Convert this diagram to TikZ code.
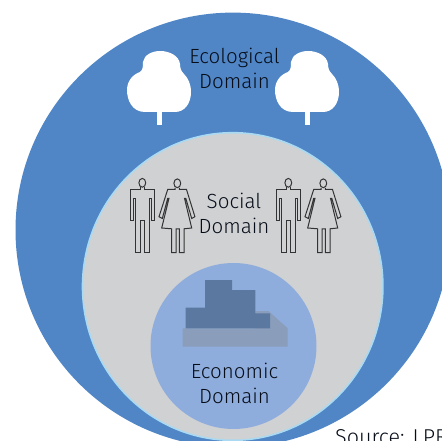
\documentclass[tikz,border=0pt]{standalone}
\usepackage{fontspec}
\setmainfont{Fira Sans Light}
\definecolor{outerblue}{HTML}{5086C6}
\definecolor{midgray}{HTML}{D0D1D3}
\definecolor{edgeblue}{HTML}{A9DAF2}
\definecolor{coreblue}{HTML}{8FADDC}
\definecolor{block}{HTML}{5B78A0}
\definecolor{blockshade}{HTML}{8A9DBB}
\definecolor{ink}{HTML}{060D18}
\tikzset{
  label text/.style={text=ink,font=\fontsize{20.5}{25}\selectfont,align=center,inner sep=0pt},
  figure line/.style={draw=black!80,line width=1pt,line join=miter},
  pics/tree/.style={code={
    \fill[white] (157,112) -- (157,125) -- (162,125) -- (162,112) -- cycle;
    \fill[white] (145,112) .. controls (132,112) and (127,100) .. (127,90)
      .. controls (127,80) and (134,74) .. (140,72)
      .. controls (143,70) and (143,66) .. (143,62)
      .. controls (144,55) and (152,51) .. (160,51)
      .. controls (170,51) and (179,56) .. (180,64)
      .. controls (180,68) and (181,71) .. (184,74)
      .. controls (188,78) and (191,84) .. (191,92)
      .. controls (191,103) and (185,112) .. (175,112) -- cycle;
  }},
  pics/man/.style={code={
    \draw[figure line] (142.3,182.8) ellipse (3.4 and 4.4);
    \draw[figure line] (140.5,187) -- (140.5,189.3) -- (130,189.3) -- (130,220) -- (133.3,220) -- (133.3,198.3) -- (135.7,198.3)
      -- (135.7,252.7) -- (140.7,252.7) -- (140.7,220) -- (144,220) -- (144,252.7) -- (149.3,252.7) -- (149.3,198.3) -- (151.7,198.3)
      -- (151.7,220) -- (154.7,220) -- (154.7,189.3) -- (144,189.3) -- (144,187);
  }},
  pics/woman/.style={code={
    \draw[figure line] (177.3,183.3) ellipse (3.4 and 4.4);
    \draw[figure line] (175,188) -- (175,189.5) -- (167.7,189.5) -- (159,216.7) -- (162.3,218.5) -- (167.7,198.3) -- (169,198.3)
      -- (161.7,228) -- (171.7,228.8) -- (171.7,252.7) -- (176,252.7) -- (176,228.8) -- (179.3,228.8) -- (179.3,252.7) -- (184,252.7)
      -- (184,228.8) -- (191.7,228) -- (184.5,198.3) -- (185.8,198.3) -- (191.7,218.5) -- (194.9,216.7) -- (186.5,189.5) -- (179.3,189.5) -- (179.3,188);
  }},
}
\begin{document}
\begin{tikzpicture}[x=1pt,y=-1pt]
\useasboundingbox (0,0) rectangle (442,441);
\clip (0,0) rectangle (442,441);
\fill[white] (0,0) rectangle (442,441);
\fill[outerblue] (232.9,230) circle [radius=217.4];
\fill[midgray,draw=edgeblue,line width=1.6pt] (232.7,286.5) ellipse [x radius=150.2,y radius=153.8];
\fill[coreblue] (233.5,346) circle [radius=83];
% trees
\pic at (0,0) {tree};
\pic at (148,0) {tree};
% people
\pic at (0,0) {man};
\pic at (0,0) {woman};
\pic at (146,0) {man};
\pic at (146,0) {woman};
% stacked blocks
\fill[blockshade] (182.7,328.3) -- (182.7,346.7) -- (287.7,346.7) -- (287.7,328.3) -- (268.5,311) -- (255.3,311) -- (255.3,328.3) -- cycle;
\fill[block] (185.7,307.7) -- (205,307.7) -- (205,280) -- (232,280) -- (232,290) -- (255.3,290) -- (255.3,313.3) -- (270,313.3) -- (270,328.3) -- (185.7,328.3) -- cycle;
% labels
\node[label text] (eco) at (234.5,68) {Ecological\\Domain};
\node[label text] (soc) at (234,213.5) {Social\\Domain};
\node[label text] (econ) at (234.5,383) {Economic\\Domain};
\node[text=ink,font=\fontsize{21.5}{24}\selectfont,anchor=base west,inner sep=0pt] (src) at (335,444.5) {Source: LPR};
\end{tikzpicture}
\end{document}
